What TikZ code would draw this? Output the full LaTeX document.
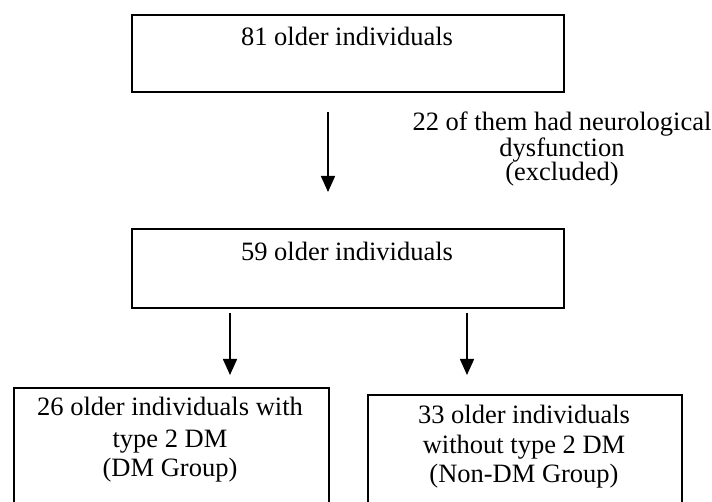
\documentclass[tikz,border=0pt]{standalone}
\usepackage{fontspec}
\setmainfont{Liberation Serif}
\usetikzlibrary{arrows.meta}
\begin{document}
\begin{tikzpicture}[x=1pt,y=-1pt,
  box/.style={draw=black, line width=1.8pt, rectangle, anchor=north west, inner sep=0pt},
  lbl/.style={font=\fontsize{26.5}{30}\selectfont, anchor=base, inner sep=0pt},
  arr/.style={line width=1.6pt, -{Triangle[width=14pt,length=16pt]}}]
\useasboundingbox (0,0) rectangle (712,502);
\clip (0,0) rectangle (712,502);
% boxes
\node[box, minimum width=432pt, minimum height=77pt] (top) at (131,14) {};
\node[box, minimum width=432pt, minimum height=79pt] (mid) at (131,228) {};
\node[box, minimum width=315pt, minimum height=140pt] (dm) at (13,387) {};
\node[box, minimum width=314pt, minimum height=140pt] (ndm) at (367,394) {};
% texts
\node[lbl] (t81) at (347,46) {81 older individuals};
\node[lbl] (t22a) at (562,131) {22 of them had neurological};
\node[lbl] (t22b) at (562,157) {dysfunction};
\node[lbl] (t22c) at (562,181) {(excluded)};
\node[lbl] (t59) at (347,261) {59 older individuals};
\node[lbl] (tdma) at (170,415) {26 older individuals with};
\node[lbl] (tdmb) at (170,447) {type 2 DM};
\node[lbl] (tdmc) at (170,476) {(DM Group)};
\node[lbl] (tnda) at (524,423) {33 older individuals};
\node[lbl] (tndb) at (524,453) {without type 2 DM};
\node[lbl] (tndc) at (524,482) {(Non-DM Group)};
% arrow end points
\coordinate (a1s) at (328,112);
\coordinate (a1e) at (328,192);
\coordinate (a2s) at (230,313);
\coordinate (a2e) at (230,375);
\coordinate (a3s) at (467,313);
\coordinate (a3e) at (467,375);
\draw[arr] (a1s) -- (a1e);
\draw[arr] (a2s) -- (a2e);
\draw[arr] (a3s) -- (a3e);
\end{tikzpicture}
\end{document}
